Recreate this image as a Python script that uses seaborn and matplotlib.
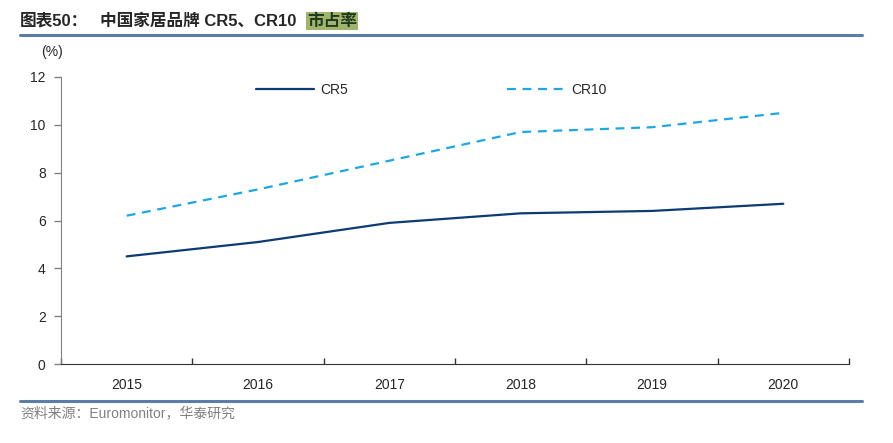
import pandas as pd
import matplotlib.pyplot as plt
import seaborn as sns
from matplotlib.lines import Line2D

# data
years = ['2015', '2016', '2017', '2018', '2019', '2020']
cr5 = [4.5, 5.1, 5.9, 6.3, 6.4, 6.7]
cr10 = [6.2, 7.3, 8.5, 9.7, 9.9, 10.5]
yticks = [0, 2, 4, 6, 8, 10, 12]

df = pd.DataFrame({
    'year': years * 2,
    'value': cr5 + cr10,
    'series': ['CR5'] * len(years) + ['CR10'] * len(years),
})

sns.set_style('white')
plt.rcParams['font.family'] = ['Liberation Sans', 'Noto Sans CJK SC']

fig = plt.figure(figsize=(8.93, 4.43), dpi=100)
ax = fig.add_axes([61 / 893, 1 - 364 / 443, 788 / 893, 287 / 443])

sns.lineplot(data=df, x='year', y='value', hue='series', style='series',
             palette={'CR5': '#0D3B73', 'CR10': '#1BA8E4'},
             dashes={'CR5': '', 'CR10': (4, 3)}, linewidth=1.6, ax=ax)

ax.set_xlim(-0.5, len(years) - 0.5)
ax.set_ylim(0, 12)
ax.set_yticks(yticks)
ax.set_xlabel('')
ax.set_ylabel('')
ax.set_xticks(range(len(years)))
ax.set_xticklabels(years, fontsize=10)
ax.set_xticks([i - 0.5 for i in range(len(years) + 1)], minor=True)
ax.tick_params(axis='x', which='major', bottom=True, length=0, pad=10)
ax.tick_params(axis='x', which='minor', bottom=True, direction='in', length=4,
               width=1, color='#333333')
ax.tick_params(axis='y', left=True, direction='out', length=5, width=1,
               color='#808080', labelsize=10, pad=6)
for s in ['top', 'right']:
    ax.spines[s].set_visible(False)
ax.spines['left'].set_color('#808080')
ax.spines['bottom'].set_color('#333333')

ax.legend(loc='center', bbox_to_anchor=(0.47, 0.955), ncol=2, frameon=False,
          handlelength=4.2, columnspacing=11.5, fontsize=10, handletextpad=0.4)

fig.text(41 / 893, 1 - 52 / 443, '(%)', fontsize=10, va='center', ha='left')

# title
ty = 1 - 21 / 443
fig.text(20 / 893, ty, '图表50：', fontsize=12, fontweight='bold', va='center')
fig.text(100 / 893, ty, '中国家居品牌 CR5、CR10', fontsize=12, fontweight='bold', va='center')
fig.text(307 / 893, ty, '市占率', fontsize=12, fontweight='bold', va='center',
         color='#1E3A1E', bbox=dict(facecolor='#A2B46C', edgecolor='none', pad=1.0))

fig.add_artist(Line2D([20 / 893, 862 / 893], [1 - 35 / 443] * 2, color='#5B7DA8', linewidth=2.2))
fig.add_artist(Line2D([20 / 893, 862 / 893], [1 - 401 / 443] * 2, color='#5B7DA8', linewidth=2.2))

fig.text(20 / 893, 1 - 413 / 443, '资料来源：Euromonitor，华泰研究', fontsize=10,
         color='#808080', va='center')

fig.savefig('out.png', dpi=100)
